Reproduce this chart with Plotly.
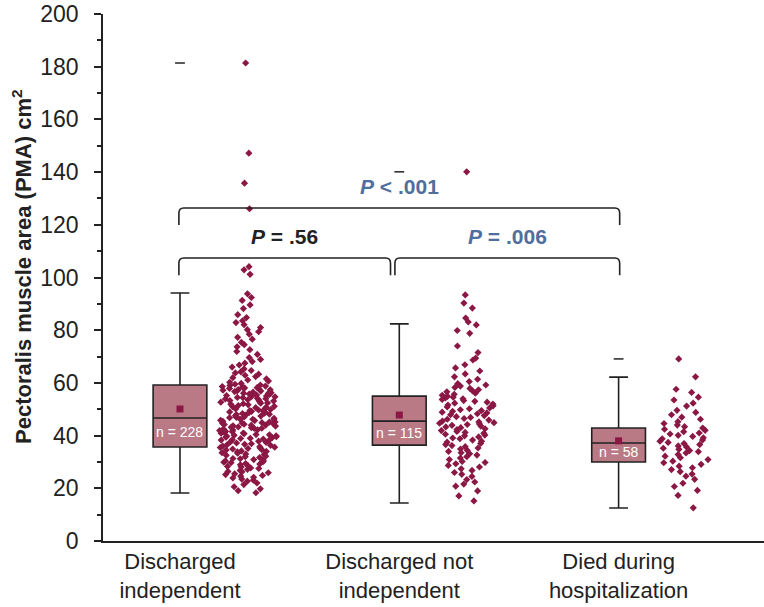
import plotly.graph_objects as go

# Groups
categories = ["Discharged<br>independent", "Discharged not<br>independent", "Died during<br>hospitalization"]

# Individual PMA values (cm2)
pma_independent = [
    18.3, 19.1, 19.8,
    20.6, 21.4, 22.0, 22.7, 23.1, 23.5, 23.9, 24.2, 24.6, 24.9,
    25.2, 25.5, 25.9, 26.3, 26.4, 26.8, 27.2, 27.5, 27.7, 28.1, 28.3, 28.6, 28.9, 29.2, 29.4, 29.7, 29.9,
    30.1, 30.4, 30.6, 30.9, 31.2, 31.3, 31.7, 32.0, 32.2, 32.5, 32.8, 33.0, 33.3, 33.5, 33.8, 34.0, 34.2, 34.5, 34.7, 34.9,
    35.1, 35.3, 35.5, 35.6, 35.8, 36.0, 36.3, 36.5, 36.7, 36.9, 37.2, 37.4, 37.6, 37.9, 38.1, 38.3, 38.4, 38.7, 38.9, 39.0,
    39.2, 39.4, 39.6, 39.8, 39.9,
    40.1, 40.3, 40.4, 40.7, 40.9, 41.0, 41.3, 41.5, 41.6, 41.9, 42.1, 42.2, 42.5, 42.7, 42.8, 43.0, 43.2, 43.3, 43.6, 43.7,
    43.9, 44.0, 44.2, 44.3, 44.5, 44.6, 44.8, 44.9,
    45.1, 45.2, 45.4, 45.7, 45.8, 46.0, 46.2, 46.3, 46.6, 46.8, 46.9, 47.1, 47.4, 47.5, 47.8, 48.0, 48.1, 48.4, 48.5, 48.7,
    48.9, 49.0, 49.2, 49.4, 49.5, 49.7, 49.9,
    50.1, 50.3, 50.6, 50.8, 51.0, 51.1, 51.4, 51.7, 51.9, 52.1, 52.3, 52.4, 52.7, 52.9, 53.1, 53.3, 53.5, 53.6, 53.9, 54.0,
    54.2, 54.4, 54.5, 54.7, 54.8, 55.0,
    55.2, 55.4, 55.6, 55.8, 56.0, 56.1, 56.3, 56.5, 56.7, 56.9, 57.0, 57.2, 57.4, 57.5, 57.7, 57.9, 58.1, 58.2, 58.4, 58.6,
    58.8, 59.0, 59.2, 59.5, 59.8,
    60.2, 60.7, 61.1, 61.5, 62.0, 62.4, 62.9, 63.3, 63.8, 64.2, 64.7,
    65.3, 66.0, 66.8, 67.5, 68.1, 68.9, 69.6,
    70.8, 71.9, 72.6, 73.7, 74.5,
    75.4, 76.6, 77.3, 78.5, 79.4,
    80.2, 81.0, 82.1, 82.9, 83.6, 84.8,
    85.9, 88.2, 89.6,
    91.3, 92.4, 93.8,
    101.2, 102.9, 104.1,
    126.1, 135.8, 147.2, 181.4,
]
pma_not_independent = [
    15.2, 17.1, 19.0,
    20.8, 21.6, 22.4, 23.3, 24.5,
    25.3, 26.0, 26.8, 27.4, 28.1, 28.7, 29.3, 29.8,
    30.2, 30.9, 31.5, 32.0, 32.6, 33.1, 33.5, 34.0, 34.4, 34.9,
    35.3, 35.8, 36.2, 36.6, 37.0, 37.5, 37.9, 38.3, 38.8, 39.1, 39.5, 39.9,
    40.2, 40.5, 40.9, 41.2, 41.6, 41.9, 42.3, 42.6, 43.0, 43.3, 43.6, 43.9, 44.2, 44.4, 44.7, 44.9,
    45.2, 45.5, 45.9, 46.2, 46.5, 46.9, 47.2, 47.6, 47.9, 48.3, 48.6, 48.9, 49.2, 49.5, 49.8,
    50.2, 50.5, 50.9, 51.3, 51.6, 52.0, 52.3, 52.7, 53.0, 53.3, 53.7, 54.0, 54.3, 54.6, 54.9,
    55.3, 55.7, 56.1, 56.6, 57.0, 57.4, 57.9, 58.3, 58.8, 59.2, 59.7,
    60.5, 61.4, 62.3, 63.4, 64.5,
    65.7, 66.9, 68.7, 69.4,
    71.5, 74.0,
    78.8, 79.9,
    82.0, 83.1, 84.6,
    88.4, 90.3, 93.4,
    140.1,
]
pma_died = [
    12.6,
    17.3, 19.2,
    20.7, 21.9, 23.4, 24.6,
    25.4, 26.3, 27.1, 27.8, 28.4, 29.1, 29.7,
    30.3, 30.9, 31.6, 32.2, 32.8, 33.4, 33.9, 34.3, 34.8,
    35.2, 35.7, 36.1, 36.6, 37.0, 37.4, 37.9, 38.3, 38.8, 39.2, 39.7,
    40.1, 40.6, 41.0, 41.5, 42.0, 42.4, 42.9, 43.4, 44.0, 44.6,
    45.3, 46.2, 47.0, 47.9, 48.8, 49.6,
    51.2, 52.3, 53.5, 54.6,
    56.4, 57.6,
    62.3,
    69.1,
]
groups = [pma_independent, pma_not_independent, pma_died]

# Box summary statistics
box_q1 = [35.7, 36.4, 30.0]
box_median = [46.7, 45.5, 37.2]
box_q3 = [59.2, 55.0, 42.9]
box_low = [18.2, 14.4, 12.5]
box_high = [94.1, 82.4, 62.2]
box_mean = [50.1, 47.8, 38.0]

# Pairwise comparisons
pairs = [(0, 1), (1, 2), (0, 2)]
p_labels = ["<i>P</i> = .56", "<i>P</i> = .006", "<i>P</i> &lt; .001"]

FONT = "Liberation Sans, Arial, sans-serif"
BOX_FILL = "#b97a86"
DOT = "#8b1744"
INK = "#222222"
BLUE = "#4f6e9e"
POINT_SHIFT = 0.31

fig = go.Figure()

for i, vals in enumerate(groups):
    # summary box
    fig.add_trace(go.Box(
        x=[i], q1=[box_q1[i]], median=[box_median[i]], q3=[box_q3[i]],
        lowerfence=[box_low[i]], upperfence=[box_high[i]],
        width=0.245, whiskerwidth=0.35, boxpoints=False,
        fillcolor=BOX_FILL, line=dict(color=INK, width=1.6),
        showlegend=False, hoverinfo="skip",
    ))
    # jittered individual values beside the box
    fig.add_trace(go.Box(
        x=[i + POINT_SHIFT] * len(vals), y=vals,
        boxpoints="all", jitter=1, pointpos=0, width=0.26,
        fillcolor="rgba(0,0,0,0)", line=dict(color="rgba(0,0,0,0)", width=0),
        marker=dict(color=DOT, size=5.5, symbol="diamond"),
        showlegend=False,
    ))

idx = list(range(len(groups)))
fig.add_trace(go.Scatter(
    x=idx, y=box_mean, mode="markers",
    marker=dict(symbol="square", size=7, color=DOT),
    showlegend=False,
))
fig.add_trace(go.Scatter(
    x=idx, y=[max(g) for g in groups], mode="markers",
    marker=dict(symbol="line-ew", size=7, line=dict(width=1.5, color=INK)),
    showlegend=False,
))

for i, vals in enumerate(groups):
    fig.add_annotation(
        x=i, y=(box_q1[i] + box_median[i]) / 2, text=f"n = {len(vals)}",
        showarrow=False, font=dict(family=FONT, size=14, color="white"),
    )

# brackets
levels = [107.4, 107.4, 126.4]
drop = 6.5
for k, (a, b) in enumerate(pairs):
    x0 = a - 0.005 if a == 0 else a - 0.02
    x1 = b + 0.005 if b == 2 else b - 0.04
    top = levels[k]
    rx, ry = 0.022, 2.0
    path = (f"M {x0},{top - drop} L {x0},{top - ry} Q {x0},{top} {x0 + rx},{top} "
            f"L {x1 - rx},{top} Q {x1},{top} {x1},{top - ry} L {x1},{top - drop}")
    fig.add_shape(type="path", path=path, xref="x", yref="y",
                  line=dict(color=INK, width=1.6))
    color = INK if k == 0 else BLUE
    fig.add_annotation(
        x=(x0 + x1) / 2, y=top + 8.3,
        text=f"<b>{p_labels[k]}</b>", showarrow=False,
        font=dict(family=FONT, size=21, color=color),
    )

# y-axis title as a rotated annotation
fig.add_annotation(
    x=-0.1225, y=0.52, xref="paper", yref="paper", textangle=-90,
    text="<b>Pectoralis muscle area (PMA) cm<sup>2</sup></b>", showarrow=False,
    font=dict(family=FONT, size=22, color=INK), xanchor="center", yanchor="middle",
)

fig.update_layout(
    width=764, height=607,
    margin=dict(l=103, r=0, t=14, b=66),
    paper_bgcolor="white", plot_bgcolor="white",
    boxmode="overlay",
    font=dict(family=FONT, color=INK),
    xaxis=dict(
        range=[-0.351, 2.663], tickvals=idx, ticktext=categories,
        showline=True, linecolor=INK, linewidth=1.5, ticks="",
        showgrid=False, zeroline=False, automargin=False,
        tickfont=dict(family=FONT, size=22, color=INK),
    ),
    yaxis=dict(
        range=[0, 200], dtick=20, ticks="outside", ticklen=7, tickwidth=1.5,
        tickcolor=INK, showline=True, linecolor=INK, linewidth=1.5,
        showgrid=False, zeroline=False, automargin=False, ticklabelstandoff=11,
        ticklabeloverflow="allow",
        minor=dict(dtick=10, ticks="outside", ticklen=4, tickwidth=1.5, tickcolor=INK, showgrid=False),
        tickfont=dict(family=FONT, size=23, color=INK),
    ),
)

# drop the default page margin so the figure sits at the window corner
fig.write_html("out.html", config={"displayModeBar": False},
               post_script="document.body.style.margin = '0';")
